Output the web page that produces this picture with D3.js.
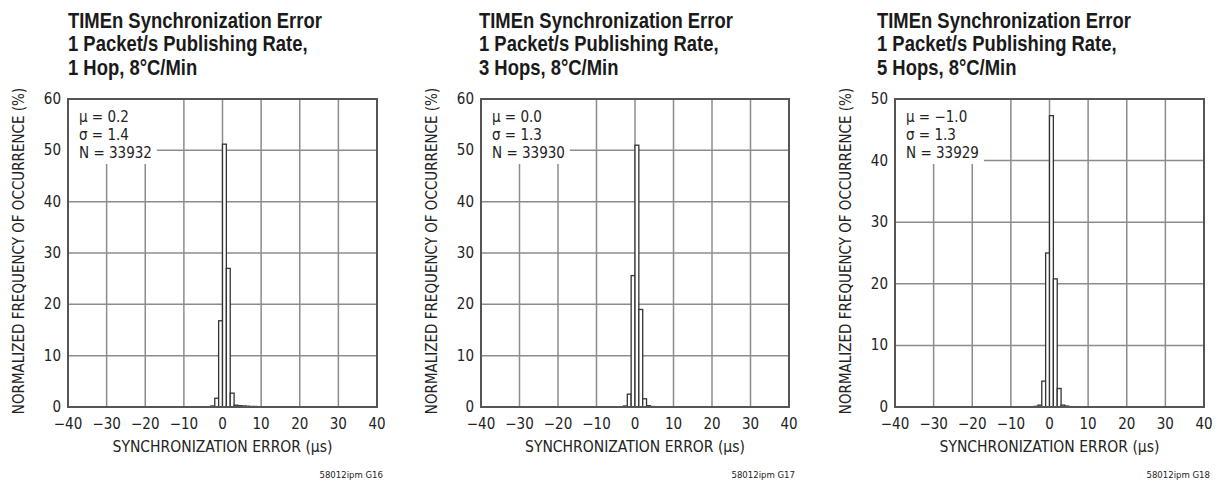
<!DOCTYPE html>
<html>
<head>
<meta charset="utf-8">
<script src="https://cdn.jsdelivr.net/npm/d3@7"></script>
<style>
  html, body { margin: 0; padding: 0; background: #fff; }
  svg { display: block; font-family: "DejaVu Sans Condensed", "Liberation Sans", sans-serif; }
</style>
</head>
<body>
<svg id="chart" width="1219" height="482"></svg>
<script>
// histogram bins: left edge of each 1 µs bin
const binStarts = [-4, -3, -2, -1, 0, 1, 2, 3, 4, 5, 6, 7, 8, 9, 10];

// normalized frequency (%) per bin
const hop1Values = [0.05, 0.2, 1.7, 16.8, 51.2, 27, 2.7, 0.35, 0.25, 0.2, 0.15, 0.1, 0.1, 0.05, 0.05];
const hop3Values = [0.05, 0.2, 2.5, 25.6, 51, 19, 1.6, 0.25, 0.1, 0.05, 0, 0, 0, 0, 0];
const hop5Values = [0.1, 0.3, 4.2, 25, 47.3, 20.8, 3, 0.3, 0.15, 0.05, 0, 0, 0, 0, 0];

const xTicks = [-40, -30, -20, -10, 0, 10, 20, 30, 40];
const yTicks60 = [0, 10, 20, 30, 40, 50, 60];
const yTicks50 = [0, 10, 20, 30, 40, 50];

const titleLines = [
  ["TIMEn Synchronization Error", "1 Packet/s Publishing Rate,", "1 Hop, 8°C/Min"],
  ["TIMEn Synchronization Error", "1 Packet/s Publishing Rate,", "3 Hops, 8°C/Min"],
  ["TIMEn Synchronization Error", "1 Packet/s Publishing Rate,", "5 Hops, 8°C/Min"]
];
const statLines = [
  ["μ = 0.2", "σ = 1.4", "N = 33932"],
  ["μ = 0.0", "σ = 1.3", "N = 33930"],
  ["μ = −1.0", "σ = 1.3", "N = 33929"]
];
const footnotes = ["58012ipm G16", "58012ipm G17", "58012ipm G18"];

const xLabel = "SYNCHRONIZATION ERROR (µs)";
const yLabel = "NORMALIZED FREQUENCY OF OCCURRENCE (%)";

const panels = [
  { left: 68, right: 377, titleX: 68, values: hop1Values, yMax: 60, yTicks: yTicks60 },
  { left: 481, right: 789, titleX: 479, values: hop3Values, yMax: 60, yTicks: yTicks60 },
  { left: 895, right: 1204, titleX: 877, values: hop5Values, yMax: 50, yTicks: yTicks50 }
];

const plotTop = 99;
const plotBottom = 407;
const titleWidth = 254; // condensed look: first title line squeezed to this width
const textColor = "#222";
const gridColor = "#8c8c8c";
const frameColor = "#555";

const fmtTick = (v) => (v < 0 ? "−" + Math.abs(v) : String(v));

const svg = d3.select("#chart");

panels.forEach((panel, i) => {
  const g = svg.append("g").attr("class", "panel");

  const x = d3.scaleLinear().domain([-40, 40]).range([panel.left, panel.right]);
  const y = d3.scaleLinear().domain([0, panel.yMax]).range([plotBottom, plotTop]);

  // title, drawn in Liberation Sans Bold and squeezed horizontally
  const titleGroup = g.append("g");
  const title = titleGroup.append("text")
    .attr("font-family", "'Liberation Sans', Arial, sans-serif")
    .attr("font-weight", "bold")
    .attr("font-size", 22)
    .attr("fill", "#1a1a1a");
  title.selectAll("tspan")
    .data(titleLines[i])
    .join("tspan")
    .attr("x", 0)
    .attr("y", (d, k) => 28 + k * 23.5)
    .text((d) => d);
  const firstLen = title.select("tspan").node().getComputedTextLength();
  titleGroup.attr("transform", `translate(${panel.titleX},0) scale(${titleWidth / firstLen},1)`);

  // plot background
  g.append("rect")
    .attr("x", panel.left)
    .attr("y", plotTop)
    .attr("width", panel.right - panel.left)
    .attr("height", plotBottom - plotTop)
    .attr("fill", "#fff");

  // grid
  g.append("g")
    .selectAll("line")
    .data(xTicks.slice(1, -1))
    .join("line")
    .attr("x1", (d) => x(d))
    .attr("x2", (d) => x(d))
    .attr("y1", plotTop)
    .attr("y2", plotBottom)
    .attr("stroke", gridColor)
    .attr("stroke-width", 1.5);

  g.append("g")
    .selectAll("line")
    .data(panel.yTicks.slice(1, -1))
    .join("line")
    .attr("x1", panel.left)
    .attr("x2", panel.right)
    .attr("y1", (d) => y(d))
    .attr("y2", (d) => y(d))
    .attr("stroke", gridColor)
    .attr("stroke-width", 1.5);

  // stats box (white background hides grid behind)
  const stats = g.append("g");
  stats.append("text")
    .attr("font-size", 15)
    .attr("fill", textColor)
    .selectAll("tspan")
    .data(statLines[i])
    .join("tspan")
    .attr("x", panel.left + 11)
    .attr("y", (d, k) => 122 + k * 18)
    .text((d) => d);
  const box = stats.node().getBBox();
  stats.insert("rect", "text")
    .attr("x", panel.left + 1)
    .attr("y", plotTop + 1)
    .attr("width", box.x + box.width + 4 - panel.left)
    .attr("height", box.y + box.height + 1 - plotTop)
    .attr("fill", "#fff");

  // histogram bars
  const bins = binStarts.map((start, k) => ({ x0: start, x1: start + 1, value: panel.values[k] }))
    .filter((b) => b.value > 0);
  g.append("g")
    .selectAll("rect")
    .data(bins)
    .join("rect")
    .attr("x", (d) => x(d.x0))
    .attr("width", (d) => x(d.x1) - x(d.x0))
    .attr("y", (d) => y(d.value))
    .attr("height", (d) => plotBottom - y(d.value))
    .attr("fill", "#fff")
    .attr("stroke", "#333")
    .attr("stroke-width", 1.3);

  // frame
  g.append("rect")
    .attr("x", panel.left)
    .attr("y", plotTop)
    .attr("width", panel.right - panel.left)
    .attr("height", plotBottom - plotTop)
    .attr("fill", "none")
    .attr("stroke", frameColor)
    .attr("stroke-width", 2);

  // x tick labels
  g.append("g")
    .selectAll("text")
    .data(xTicks)
    .join("text")
    .attr("x", (d) => x(d))
    .attr("y", plotBottom + 22)
    .attr("text-anchor", "middle")
    .attr("font-size", 15)
    .attr("fill", textColor)
    .text(fmtTick);

  // y tick labels
  g.append("g")
    .selectAll("text")
    .data(panel.yTicks)
    .join("text")
    .attr("x", panel.left - 7)
    .attr("y", (d) => y(d) + 5)
    .attr("text-anchor", "end")
    .attr("font-size", 15)
    .attr("fill", textColor)
    .text((d) => d);

  // axis titles
  g.append("text")
    .attr("x", (panel.left + panel.right) / 2)
    .attr("y", 452)
    .attr("text-anchor", "middle")
    .attr("font-size", 15.5)
    .attr("fill", textColor)
    .text(xLabel);

  g.append("text")
    .attr("transform", `translate(${panel.left - 44},${(plotTop + plotBottom) / 2 - 2}) rotate(-90)`)
    .attr("text-anchor", "middle")
    .attr("font-size", 15)
    .attr("fill", textColor)
    .text(yLabel);

  // footnote
  g.append("text")
    .attr("x", panel.right + 6)
    .attr("y", 478)
    .attr("text-anchor", "end")
    .attr("font-size", 9.5)
    .attr("fill", textColor)
    .text(footnotes[i]);
});
</script>
</body>
</html>
